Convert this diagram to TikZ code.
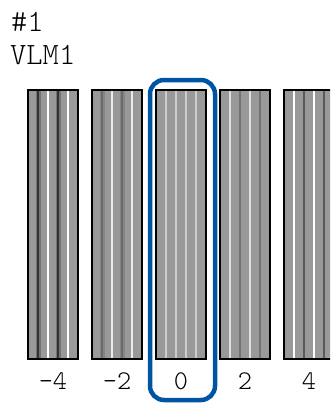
\documentclass[tikz,border=0pt]{standalone}
\usepackage{fontspec}
\setmonofont{Latin Modern Mono Light}
\definecolor{epsonblue}{RGB}{0,84,164}

\begin{document}
\begin{tikzpicture}[x=1pt,y=-1pt,
bar/.style={fill=black!40,minimum width=50pt,minimum height=269.5pt,inner sep=0pt,anchor=north west},
head/.style={font=\ttfamily\fontsize{31}{31}\selectfont,anchor=base west,inner sep=0pt},
lab/.style={font=\ttfamily\fontsize{27}{27}\selectfont,anchor=base,inner sep=0pt}]
\useasboundingbox (0,0) rectangle (330,405);
\clip (0,0) rectangle (330,405);

\node[head] (num) at (11,31) {\#1};
\node[head] (vlm) at (10,64) {VLM1};

% pattern bars: odd stripes \a on band \c, even stripes \b
\foreach \i/\a/\b/\c/\t in {0/black!80/white/black!55/{-4},
1/black!58/white!92!black/black!48/{-2},
2/white!80!black/white!80!black/black!40/0,
3/white!88!black/black!55/black!40/2,
4/white/black!65/black!40/4}{
\pgfmathsetmacro\x{28+64*\i}
\node[bar] (bar\i) at (\x,89.5) {};
\fill[\c] (\x+7.5,89.5) rectangle (\x+12.5,359);
\fill[\c] (\x+27.5,89.5) rectangle (\x+32.5,359);
\fill[\a] (\x+9,89.5) rectangle (\x+11,359);
\fill[\b] (\x+19,89.5) rectangle (\x+21,359);
\fill[\a] (\x+29,89.5) rectangle (\x+31,359);
\fill[\b] (\x+39,89.5) rectangle (\x+41,359);
\draw[line width=2pt] (bar\i.north west) rectangle (bar\i.south east);
\node[lab] (lab\i) at (\x+25,389) {\t};
}

\draw[epsonblue,line width=4.5pt,rounded corners=14pt] (150,80) rectangle (215,400);
\end{tikzpicture}
\end{document}
